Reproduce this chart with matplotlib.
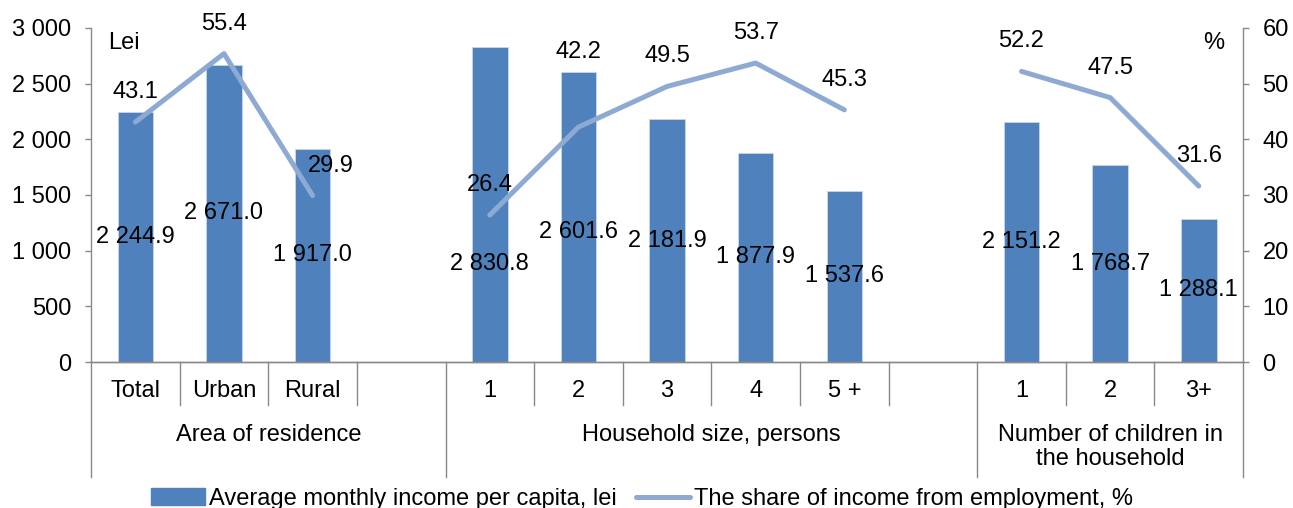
import matplotlib.pyplot as plt
from matplotlib.ticker import FuncFormatter, MultipleLocator
from matplotlib.lines import Line2D
from matplotlib.patches import Patch

plt.rcParams['font.family'] = ['Liberation Sans', 'DejaVu Sans']
plt.rcParams['font.size'] = 17

# data
categories = ['Total', 'Urban', 'Rural', '', '1', '2', '3', '4', '5 +', '', '1', '2', '3+']
income = [2244.9, 2671.0, 1917.0, None, 2830.8, 2601.6, 2181.9, 1877.9, 1537.6,
          None, 2151.2, 1768.7, 1288.1]
employment_share = [43.1, 55.4, 29.9, None, 26.4, 42.2, 49.5, 53.7, 45.3,
                    None, 52.2, 47.5, 31.6]
groups = ['Area of residence', 'Household size, persons',
          'Number of children in\nthe household']
group_bounds = [(0, 4), (4, 10), (10, 13)]

# label placement tweaks (as in the original layout)
bar_label_frac = {4: 0.31, 5: 0.45}
line_label_offset = {2: (18, 30), 5: (0, 75)}

bar_color = '#4F81BD'
line_color = '#8EAAD2'
axis_color = '#898989'

fig = plt.figure(figsize=(12.93, 5.08), dpi=100)
ax = fig.add_axes([0.0704, 0.2874, 0.8910, 0.6575])
ax2 = ax.twinx()

x = list(range(len(categories)))
bx = [i for i in x if income[i] is not None]
bv = [income[i] for i in bx]
ax.bar(bx, bv, width=0.4, color=bar_color, edgecolor='#C9D6EA', linewidth=0.6, zorder=2)

for i, v in zip(bx, bv):
    frac = bar_label_frac.get(i, 0.5)
    ax.text(i, v * frac, f'{v:,.1f}'.replace(',', ' '), ha='center', va='center', zorder=5)

ys = [float('nan') if v is None else v for v in employment_share]
ax2.plot(x, ys, color=line_color, lw=3.6, solid_capstyle='round', solid_joinstyle='round', zorder=3)
for i, v in enumerate(employment_share):
    if v is None:
        continue
    dx, dy = line_label_offset.get(i, (0, 30))
    ax2.annotate(f'{v:.1f}', (i, v), xytext=(dx, dy), textcoords='offset pixels',
                 ha='center', va='center')

ax.set_xlim(-0.5, len(categories) - 0.5)
ax.set_ylim(0, 3000)
ax2.set_ylim(0, 60)
ax.yaxis.set_major_locator(MultipleLocator(500))
ax2.yaxis.set_major_locator(MultipleLocator(10))
ax.yaxis.set_major_formatter(FuncFormatter(lambda v, p: f'{int(v):,}'.replace(',', ' ')))

for a in (ax, ax2):
    a.spines['top'].set_visible(False)
    for s in ('left', 'right', 'bottom'):
        a.spines[s].set_color(axis_color)
        a.spines[s].set_linewidth(1.0)
    a.tick_params(axis='y', length=4, width=1, color=axis_color, pad=10)
ax.spines['right'].set_visible(False)
ax2.spines['left'].set_visible(False)

ax.set_xticks([])
ax2.set_xticks([])

# category separators below the axis
trans = ax.get_xaxis_transform()
long_bounds = {b for g in group_bounds for b in g}
for b in range(len(categories) + 1):
    depth = -0.344 if b in long_bounds else -0.129
    ax.plot([b - 0.5, b - 0.5], [0, depth], transform=trans, color=axis_color,
            lw=1.0, clip_on=False)

for i, c in enumerate(categories):
    ax.text(i, -0.087, c, transform=trans, ha='center', va='center')

for g, (a, b) in zip(groups, group_bounds):
    ax.text((a + b - 1) / 2, -0.185, g, transform=trans, ha='center', va='top',
            linespacing=1.15)

ax.text(0.015, 0.955, 'Lei', transform=ax.transAxes, ha='left', va='center')
ax.text(0.984, 0.955, '%', transform=ax.transAxes, ha='right', va='center')

handles = [Patch(color=bar_color), Line2D([], [], color=line_color, lw=3.6, solid_capstyle='round')]
labels = ['Average monthly income per capita, lei', 'The share of income from employment, %']
fig.legend(handles, labels, loc='center', bbox_to_anchor=(642 / 1293, 1 - 499 / 508), ncol=2,
           frameon=False, handlelength=2.25, handletextpad=0.17, columnspacing=0.85,
           borderaxespad=0, borderpad=0)

fig.savefig('out.png', dpi=100)
